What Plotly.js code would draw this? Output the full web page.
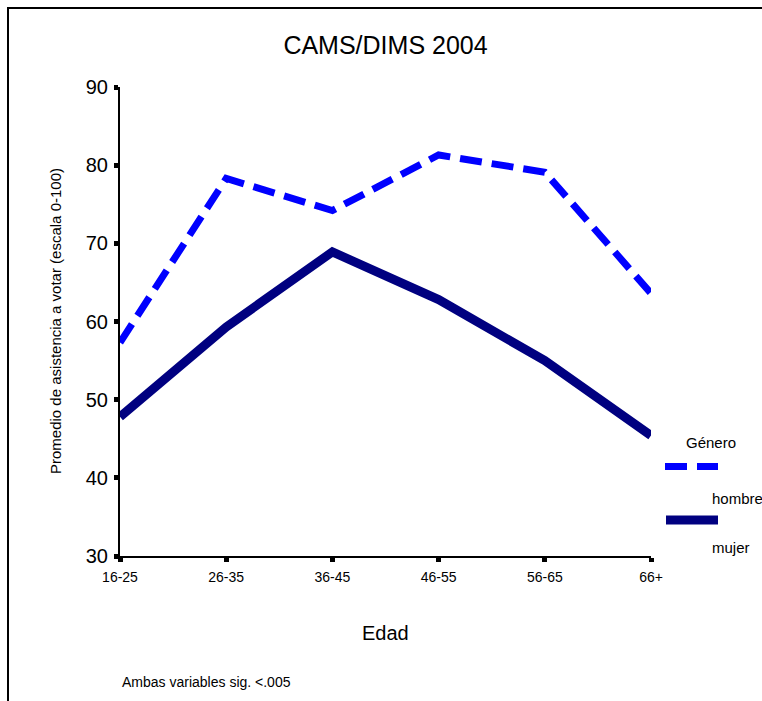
<!DOCTYPE html>
<html>
<head>
<meta charset="utf-8">
<script src="https://cdn.plot.ly/plotly-3.0.1.min.js"></script>
<style>
  html, body { margin: 0; padding: 0; background: #fff; }
  #wrap { position: relative; width: 762px; height: 701px; }
  #chart { width: 762px; height: 701px; }
  #frame { position: absolute; left: 7px; top: 7px; right: 0; bottom: 0;
           border-left: 2px solid #000; border-top: 2px solid #000; pointer-events: none; }
</style>
</head>
<body>
<div id="wrap">
  <div id="chart"></div>
  <div id="frame"></div>
</div>
<script>
const categories = ['16-25', '26-35', '36-45', '46-55', '56-65', '66+'];
const hombre = [57.3, 78.3, 74.2, 81.3, 79.1, 63.6];
const mujer = [47.8, 59.3, 68.9, 62.8, 55.0, 45.4];
const yTicks = [30, 40, 50, 60, 70, 80, 90];
const seriesNames = ['hombre', 'mujer'];
const legendTitle = 'Género';
const chartTitle = 'CAMS/DIMS 2004';
const xTitle = 'Edad';
const yTitle = 'Promedio de asistencia a votar (escala 0-100)';
const footnote = 'Ambas variables sig. <.005';

const FONT = 'Liberation Sans, Arial, sans-serif';

const traces = [
  {
    x: categories, y: hombre, name: seriesNames[0], type: 'scatter', mode: 'lines',
    line: { color: '#0000FF', width: 7, dash: '22px,10px' }, cliponaxis: false
  },
  {
    x: categories, y: mujer, name: seriesNames[1], type: 'scatter', mode: 'lines',
    line: { color: '#000080', width: 9 }, cliponaxis: false
  }
];

const layout = {
  width: 762, height: 701,
  margin: { l: 120, r: 111, t: 87, b: 145, pad: 0 },
  paper_bgcolor: '#fff', plot_bgcolor: '#fff',
  showlegend: false,
  font: { family: FONT, color: '#000' },
  title: {
    text: chartTitle, font: { family: FONT, size: 25, color: '#000' },
    xref: 'paper', x: 0.5, xanchor: 'center',
    yref: 'container', y: 1 - 45 / 701, yanchor: 'middle'
  },
  xaxis: {
    type: 'category', range: [0, categories.length - 1],
    showline: true, linecolor: '#000', linewidth: 2,
    ticks: 'outside', ticklen: 4, tickwidth: 5, tickcolor: '#000',
    ticklabelstandoff: 3,
    showgrid: false, zeroline: false,
    tickfont: { family: FONT, size: 14, color: '#000' },
    fixedrange: true
  },
  yaxis: {
    range: [30, 90], tickvals: yTicks,
    showline: true, linecolor: '#000', linewidth: 2,
    ticks: 'outside', ticklen: 4, tickwidth: 5, tickcolor: '#000',
    ticklabelstandoff: 2,
    showgrid: false, zeroline: false,
    tickfont: { family: FONT, size: 20, color: '#000' },
    fixedrange: true
  },
  annotations: [
    { text: xTitle, xref: 'paper', yref: 'paper', x: 0.5, y: (556 - 633) / 469,
      xanchor: 'center', yanchor: 'middle', showarrow: false,
      font: { family: FONT, size: 20, color: '#000' } },
    { text: yTitle, xref: 'paper', yref: 'paper', x: (55 - 120) / 531, y: (556 - 321) / 469,
      xanchor: 'center', yanchor: 'middle', textangle: -90, showarrow: false,
      font: { family: FONT, size: 15, color: '#000' } },
    { text: footnote, xref: 'paper', yref: 'paper', x: 0, y: (556 - 682) / 469,
      xanchor: 'left', yanchor: 'middle', showarrow: false,
      font: { family: FONT, size: 14, color: '#000' } },
    { text: legendTitle, xref: 'paper', yref: 'paper', x: (684 - 120) / 531, y: (556 - 442) / 469,
      xanchor: 'left', yanchor: 'middle', showarrow: false,
      font: { family: FONT, size: 15, color: '#000' } },
    { text: seriesNames[0], xref: 'paper', yref: 'paper', x: (710 - 120) / 531, y: (556 - 498) / 469,
      xanchor: 'left', yanchor: 'middle', showarrow: false,
      font: { family: FONT, size: 15, color: '#000' } },
    { text: seriesNames[1], xref: 'paper', yref: 'paper', x: (710 - 120) / 531, y: (556 - 547) / 469,
      xanchor: 'left', yanchor: 'middle', showarrow: false,
      font: { family: FONT, size: 15, color: '#000' } }
  ],
  shapes: [
    { type: 'line', xref: 'paper', yref: 'paper',
      x0: (665 - 120) / 531, x1: (718 - 120) / 531,
      y0: (556 - 466.5) / 469, y1: (556 - 466.5) / 469,
      line: { color: '#0000FF', width: 7, dash: '22px,10px' } },
    { type: 'line', xref: 'paper', yref: 'paper',
      x0: (666 - 120) / 531, x1: (718 - 120) / 531,
      y0: (556 - 520) / 469, y1: (556 - 520) / 469,
      line: { color: '#000080', width: 9 } }
  ]
};

Plotly.newPlot('chart', traces, layout, { displayModeBar: false, staticPlot: true });
</script>
</body>
</html>
